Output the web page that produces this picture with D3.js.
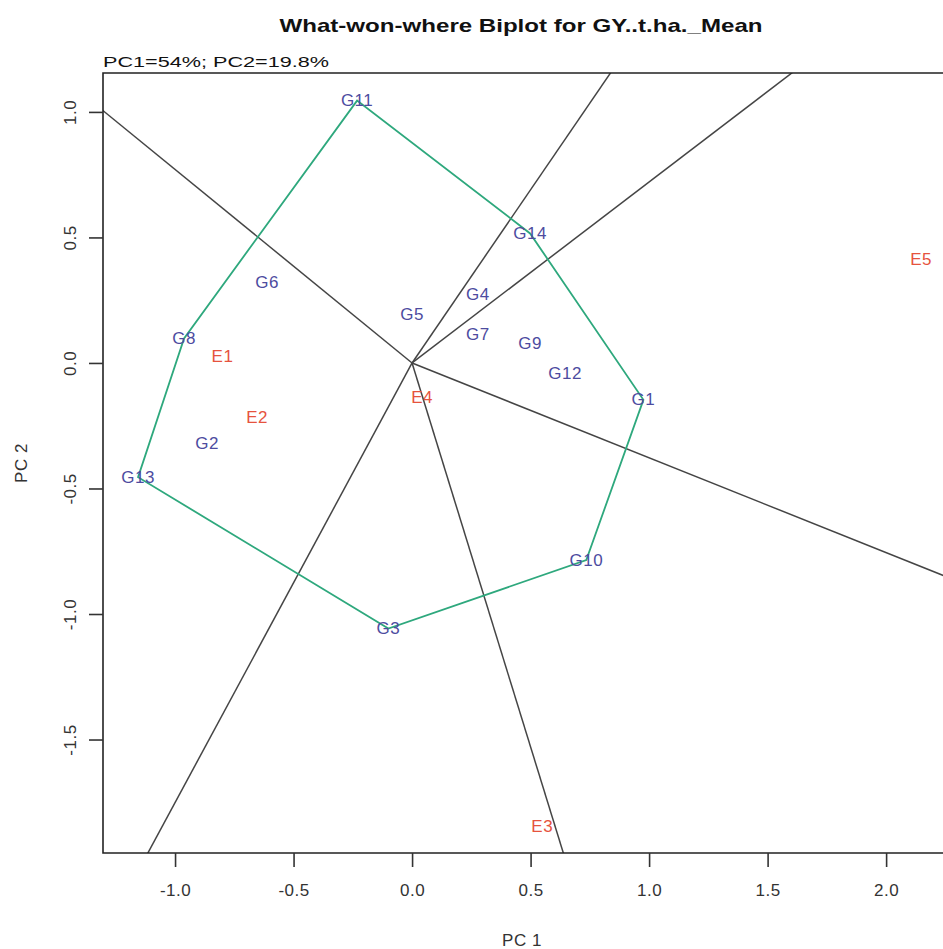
<!DOCTYPE html>
<html>
<head>
<meta charset="utf-8">
<script src="https://cdn.jsdelivr.net/npm/d3@7"></script>
<style>
  body { margin: 0; background: #fff; }
  svg { font-family: "Liberation Sans", Arial, sans-serif; }
</style>
</head>
<body>
<script>
// genotype scores (PC1, PC2)
const genotypes = ["G1", "G2", "G3", "G4", "G5", "G6", "G7", "G8", "G9", "G10", "G11", "G12", "G13", "G14"];
const genoPC1 = [0.976, -0.865, -0.10, 0.278, 0.0, -0.612, 0.278, -0.962, 0.498, 0.735, -0.232, 0.646, -1.156, 0.498];
const genoPC2 = [-0.147, -0.319, -1.058, 0.271, 0.195, 0.319, 0.112, 0.098, 0.076, -0.785, 1.045, -0.04, -0.455, 0.516];

// environment scores
const environments = ["E1", "E2", "E3", "E4", "E5"];
const envPC1 = [-0.80, -0.654, 0.549, 0.042, 2.148];
const envPC2 = [0.024, -0.219, -1.845, -0.139, 0.414];

const xTicks = [-1.0, -0.5, 0.0, 0.5, 1.0, 1.5, 2.0];
const yTicks = [-1.5, -1.0, -0.5, 0.0, 0.5, 1.0];

const width = 943;
const height = 949;
const mLeft = 103, mTop = 73, mBottom = 853, mRight = 960;

const x = d3.scaleLinear().domain([-1.304, 2.24]).range([mLeft, 943]);
const y = d3.scaleLinear().domain([-1.952, 1.155]).range([mBottom, mTop]);

const svg = d3.select("body").append("svg")
  .attr("width", width)
  .attr("height", height);

svg.append("defs").append("clipPath").attr("id", "plot")
  .append("rect")
  .attr("x", mLeft).attr("y", mTop)
  .attr("width", mRight - mLeft).attr("height", mBottom - mTop);

const geno = genotypes.map((g, i) => ({ name: g, x: genoPC1[i], y: genoPC2[i] }));
const env = environments.map((e, i) => ({ name: e, x: envPC1[i], y: envPC2[i] }));

// convex hull of genotypes
const hull = d3.polygonHull(geno.map(d => [d.x, d.y]));

const plot = svg.append("g").attr("clip-path", "url(#plot)");

// rays from origin perpendicular to each hull side
const rays = [];
for (let i = 0; i < hull.length; i++) {
  const a = hull[i];
  const b = hull[(i + 1) % hull.length];
  const dx = b[0] - a[0], dy = b[1] - a[1];
  const t = -(a[0] * dx + a[1] * dy) / (dx * dx + dy * dy);
  if (t < 0 || t > 1) continue;
  const fx = a[0] + t * dx, fy = a[1] + t * dy;
  rays.push([fx * 20, fy * 20]);
}

plot.selectAll("line.ray")
  .data(rays)
  .enter()
  .append("line")
  .attr("class", "ray")
  .attr("x1", x(0)).attr("y1", y(0))
  .attr("x2", d => x(d[0]))
  .attr("y2", d => y(d[1]))
  .attr("stroke", "#454545")
  .attr("stroke-width", 1.5);

plot.append("path")
  .attr("d", d3.line().x(d => x(d[0])).y(d => y(d[1])).curve(d3.curveLinearClosed)(hull))
  .attr("fill", "none")
  .attr("stroke", "#2ea87d")
  .attr("stroke-width", 1.8);

plot.selectAll("text.geno")
  .data(geno)
  .enter()
  .append("text")
  .attr("class", "geno")
  .attr("x", d => x(d.x))
  .attr("y", d => y(d.y))
  .attr("text-anchor", "middle")
  .attr("dominant-baseline", "central")
  .attr("font-size", 17)
  .attr("letter-spacing", 0.5)
  .attr("fill", "#4d4c9f")
  .text(d => d.name);

plot.selectAll("text.env")
  .data(env)
  .enter()
  .append("text")
  .attr("class", "env")
  .attr("x", d => x(d.x))
  .attr("y", d => y(d.y))
  .attr("text-anchor", "middle")
  .attr("dominant-baseline", "central")
  .attr("font-size", 17)
  .attr("letter-spacing", 0.5)
  .attr("fill", "#e6533e")
  .text(d => d.name);

// frame
svg.append("path")
  .attr("d", `M${mRight},${mTop}H${mLeft}V${mBottom}H${mRight}`)
  .attr("fill", "none")
  .attr("stroke", "#222")
  .attr("stroke-width", 1.6);

// axes
const fmt = d => d.toFixed(1);
const xAxis = svg.append("g")
  .attr("transform", `translate(0,${mBottom})`)
  .call(d3.axisBottom(x).tickValues(xTicks).tickFormat(fmt).tickSize(14).tickPadding(17));
const yAxis = svg.append("g")
  .attr("transform", `translate(${mLeft},0)`)
  .call(d3.axisLeft(y).tickValues(yTicks).tickFormat(fmt).tickSize(14).tickPadding(8));

[xAxis, yAxis].forEach(a => {
  a.select(".domain").remove();
  a.selectAll(".tick line").attr("stroke", "#333").attr("stroke-width", 1.6);
  a.selectAll(".tick text")
    .attr("font-size", 17)
    .attr("letter-spacing", 0.5)
    .attr("font-family", "Liberation Sans, Arial, sans-serif")
    .attr("fill", "#333");
});

yAxis.selectAll(".tick text")
  .attr("x", 0)
  .attr("dy", "0.35em")
  .attr("text-anchor", "middle")
  .attr("transform", "translate(-33,0) rotate(-90)");

// titles
svg.append("text")
  .attr("x", 521)
  .attr("y", 32)
  .attr("text-anchor", "middle")
  .attr("font-size", 19)
  .attr("font-weight", "bold")
  .attr("fill", "#111")
  .attr("textLength", 483)
  .attr("lengthAdjust", "spacingAndGlyphs")
  .text("What-won-where Biplot for GY..t.ha._Mean");

svg.append("text")
  .attr("x", mLeft)
  .attr("y", 67)
  .attr("font-size", 15)
  .attr("fill", "#111")
  .attr("textLength", 226)
  .attr("lengthAdjust", "spacingAndGlyphs")
  .text("PC1=54%; PC2=19.8%");

svg.append("text")
  .attr("x", 522)
  .attr("y", 946)
  .attr("text-anchor", "middle")
  .attr("font-size", 17)
  .attr("letter-spacing", 0.5)
  .attr("fill", "#333")
  .text("PC 1");

svg.append("text")
  .attr("transform", `translate(27,${(mTop + mBottom) / 2}) rotate(-90)`)
  .attr("text-anchor", "middle")
  .attr("font-size", 17)
  .attr("letter-spacing", 0.5)
  .attr("fill", "#333")
  .text("PC 2");
</script>
</body>
</html>
